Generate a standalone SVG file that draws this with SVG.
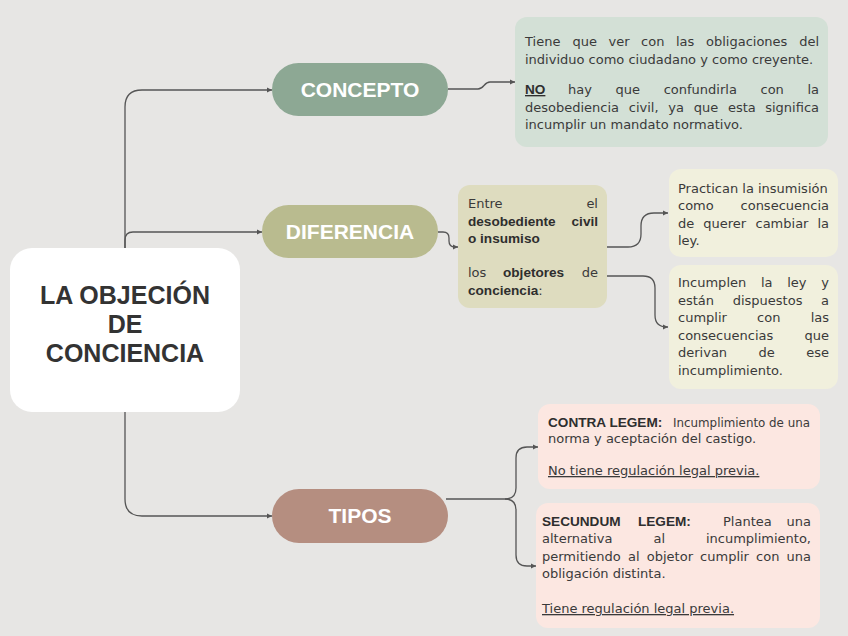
<svg xmlns="http://www.w3.org/2000/svg" width="848" height="636" viewBox="0 0 848 636">
<defs>
<style>
.bg{fill:#e7e6e4}
.t{font-family:"DejaVu Sans","Noto Sans",sans-serif;font-size:13px;fill:#3a3a3a}
.b{font-family:"Liberation Sans",Arial,sans-serif;font-weight:bold;font-size:13.6px;fill:#2e2e2e}
.e{text-anchor:end}
.u{text-decoration:underline}
.pill{font-family:"Liberation Sans",Arial,sans-serif;font-weight:bold;font-size:21px;fill:#ffffff;text-anchor:middle}
.title{font-family:"Liberation Sans",Arial,sans-serif;font-weight:bold;font-size:25px;fill:#333333;text-anchor:middle}
.c{fill:none;stroke:#555555;stroke-width:1.3}
</style>
<marker id="ar" markerUnits="userSpaceOnUse" markerWidth="6" markerHeight="6" refX="5" refY="3" orient="auto">
<path d="M0,0.6 L5,3 L0,5.4 z" fill="#555555"/>
</marker>
</defs>
<rect class="bg" x="0" y="0" width="848" height="636"/>

<g id="connectors">
<path class="c" d="M125,248 V107 Q125,90 142,90 H272" marker-end="url(#ar)"/>
<path class="c" d="M125,248 V240 Q125,232 133,232 H262" marker-end="url(#ar)"/>
<path class="c" d="M125,412 V499 Q125,516 142,516 H272" marker-end="url(#ar)"/>
<path class="c" d="M448,89 H478 C484,89 484,82 490,82 H515" marker-end="url(#ar)"/>
<path class="c" d="M438,232 H443 Q449,232 449,238 V241 Q449,247 455,247 H458" marker-end="url(#ar)"/>
<path class="c" d="M607,247 H628 Q641,247 641,234 V226 Q641,213 654,213 H668" marker-end="url(#ar)"/>
<path class="c" d="M607,276 H643 Q655,276 655,288 V315 Q655,327 667,327 H668" marker-end="url(#ar)"/>
<path class="c" d="M446,499 H505 Q516,499 516,488 V458 Q516,447 527,447 H538" marker-end="url(#ar)"/>
<path class="c" d="M505,499 Q516,499 516,510 V555 Q516,566 527,566 H536" marker-end="url(#ar)"/>
</g>

<g id="root">
<rect x="10" y="248" width="230" height="164" rx="22" fill="#ffffff"/>
<text class="title" x="125" y="304">LA OBJECIÓN</text>
<text class="title" x="125" y="333">DE</text>
<text class="title" x="125" y="362">CONCIENCIA</text>
</g>

<g id="concepto">
<rect x="272" y="63" width="176" height="53" rx="26.5" fill="#8da894"/>
<text class="pill" x="360" y="97">CONCEPTO</text>
</g>

<g id="diferencia">
<rect x="262" y="205" width="176" height="53" rx="26.5" fill="#b9bb8f"/>
<text class="pill" x="350" y="239">DIFERENCIA</text>
</g>

<g id="tipos">
<rect x="272" y="489" width="176" height="54" rx="27" fill="#b58e80"/>
<text class="pill" x="360" y="523">TIPOS</text>
</g>

<g id="concepto-texto">
<rect x="515" y="17" width="313" height="130" rx="12" fill="#d3e0d6"/>
<text class="t" y="46"><tspan x="525">Tiene</tspan><tspan x="572.4">que</tspan><tspan x="608.5">ver</tspan><tspan x="641.1">con</tspan><tspan x="676">las</tspan><tspan x="706">obligaciones</tspan></text>
<text class="t e" x="819" y="46">del</text>
<text class="t" x="525" y="63.5">individuo como ciudadano y como creyente.</text>
<text class="t" y="94"><tspan class="b u" x="525">NO</tspan><tspan x="568.1">hay</tspan><tspan x="615.6">que</tspan><tspan x="663.7">confundirla</tspan><tspan x="760.5">con</tspan></text>
<text class="t e" x="819" y="94">la</text>
<text class="t" y="111.5"><tspan x="525">desobediencia</tspan><tspan x="628.8">civil,</tspan><tspan x="668.3">ya</tspan><tspan x="693.7">que</tspan><tspan x="727.9">esta</tspan></text>
<text class="t e" x="819" y="111.5">significa</text>
<text class="t" x="525" y="129">incumplir un mandato normativo.</text>
</g>

<g id="entre">
<rect x="458" y="185" width="149" height="123" rx="12" fill="#dedcbf"/>
<text class="t" x="468" y="208">Entre</text>
<text class="t e" x="598" y="208">el</text>
<text class="b" x="468" y="226">desobediente</text>
<text class="b e" x="598" y="226">civil</text>
<text class="b" x="468" y="243">o insumiso</text>
<text class="t" y="277"><tspan x="468">los</tspan><tspan class="b" x="503">objetores</tspan></text>
<text class="t e" x="598" y="277">de</text>
<text class="t" x="468" y="295"><tspan class="b">conciencia</tspan>:</text>
</g>

<g id="practican">
<rect x="669" y="169" width="169" height="88" rx="12" fill="#f1f0dd"/>
<text class="t" x="678" y="193">Practican la insumisión</text>
<text class="t" x="678" y="210">como</text>
<text class="t e" x="829" y="210">consecuencia</text>
<text class="t" y="228"><tspan x="678">de</tspan><tspan x="703.3">querer</tspan><tspan x="755.5">cambiar</tspan></text>
<text class="t e" x="829" y="228">la</text>
<text class="t" x="678" y="245">ley.</text>
</g>

<g id="incumplen">
<rect x="669" y="265" width="169" height="124" rx="12" fill="#f1f0dd"/>
<text class="t" y="287"><tspan x="678">Incumplen</tspan><tspan x="760.9">la</tspan><tspan x="787.2">ley</tspan></text>
<text class="t e" x="829" y="287">y</text>
<text class="t" y="305"><tspan x="678">están</tspan><tspan x="732.7">dispuestos</tspan></text>
<text class="t e" x="829" y="305">a</text>
<text class="t" y="322"><tspan x="678">cumplir</tspan><tspan x="757.1">con</tspan></text>
<text class="t e" x="829" y="322">las</text>
<text class="t" x="678" y="340">consecuencias</text>
<text class="t e" x="829" y="340">que</text>
<text class="t" y="357"><tspan x="678">derivan</tspan><tspan x="758.5">de</tspan></text>
<text class="t e" x="829" y="357">ese</text>
<text class="t" x="678" y="375">incumplimiento.</text>
</g>

<g id="contra-legem">
<rect x="538" y="404" width="282" height="85" rx="12" fill="#fce7e1"/>
<text class="b" x="548" y="427">CONTRA LEGEM:</text>
<text class="t" x="673" y="427" textLength="137" lengthAdjust="spacingAndGlyphs">Incumplimiento de una</text>
<text class="t" x="548" y="443">norma y aceptación del castigo.</text>
<text class="t u" x="548" y="475">No tiene regulación legal previa.</text>
</g>

<g id="secundum-legem">
<rect x="536" y="503" width="284" height="125" rx="12" fill="#fce7e1"/>
<text class="b" y="526"><tspan x="542">SECUNDUM</tspan><tspan x="638">LEGEM:</tspan></text>
<text class="t" x="723" y="526">Plantea</text>
<text class="t e" x="811" y="526">una</text>
<text class="t" y="543"><tspan x="542">alternativa</tspan><tspan x="653.5">al</tspan></text>
<text class="t e" x="811" y="543">incumplimiento,</text>
<text class="t" y="561"><tspan x="542">permitiendo</tspan><tspan x="628.1">al</tspan><tspan x="646.8">objetor</tspan><tspan x="700.1">cumplir</tspan><tspan x="756.1">con</tspan></text>
<text class="t e" x="811" y="561">una</text>
<text class="t" x="542" y="578">obligación distinta.</text>
<text class="t u" x="542" y="613">Tiene regulación legal previa.</text>
</g>
</svg>
